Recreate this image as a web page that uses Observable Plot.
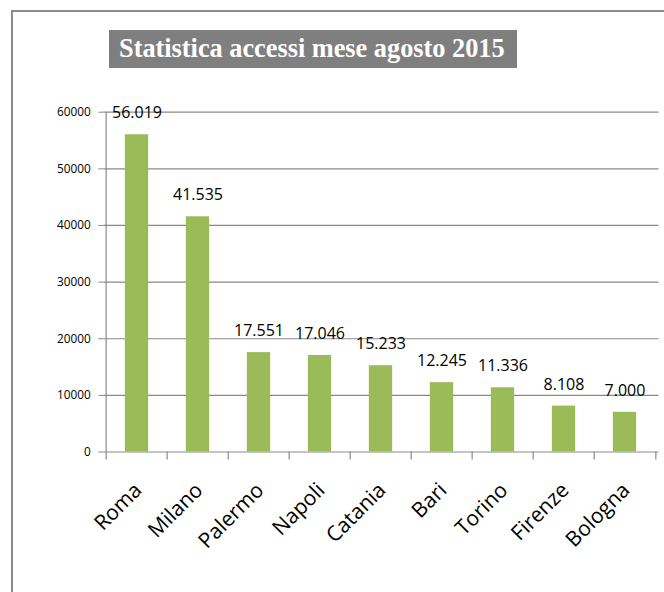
<!DOCTYPE html>
<html>
<head>
<meta charset="utf-8">
<script src="https://cdn.jsdelivr.net/npm/d3@7"></script>
<script src="https://cdn.jsdelivr.net/npm/@observablehq/plot@0.6"></script>
<style>
  html, body { margin: 0; padding: 0; background: #fff; }
  #wrap { position: relative; width: 664px; height: 592px; overflow: hidden; background: #fff; }
  #frame { position: absolute; left: 11px; top: 10px; width: 1000px; height: 1000px;
           border-top: 2px solid #8c8c8c; border-left: 2px solid #8c8c8c; }
  #chart { position: absolute; left: 0; top: 0; }
  #title { position: absolute; left: 109px; top: 30px; width: 408px; height: 38px;
           background: #7f7f7f; color: #fff; font-family: "Liberation Serif", serif;
           font-weight: bold; font-size: 26.3px; line-height: 38px; box-sizing: border-box;
           padding-left: 10px; white-space: nowrap; }
</style>
</head>
<body>
<div id="wrap">
  <div id="frame"></div>
  <div id="chart"></div>
  <div id="title">Statistica accessi mese agosto 2015</div>
</div>
<script>
const cities = ["Roma", "Milano", "Palermo", "Napoli", "Catania", "Bari", "Torino", "Firenze", "Bologna"];
const accessi = [56019, 41535, 17551, 17046, 15233, 12245, 11336, 8108, 7000];
const yTicks = [0, 10000, 20000, 30000, 40000, 50000, 60000];

const data = cities.map((c, i) => ({city: c, value: accessi[i]}));
const it = d3.formatLocale({decimal: ",", thousands: ".", grouping: [3], currency: ["", "€"]});
const fmt = it.format(",d");

const W = 664, H = 592;
const mL = 103.3, mR = 5.5, mT = 111.7, mB = 140.5;
const step = (W - mL - mR) / cities.length;
const barW = 24;
const inset = (step - barW) / 2;
const tickLen = 8 / (H - mT - mB) * 60000;
const grid = "#898989";

const chart = Plot.plot({
  width: W,
  height: H,
  marginLeft: mL,
  marginRight: mR,
  marginTop: mT,
  marginBottom: mB,
  style: {fontFamily: "'Open Sans', sans-serif", background: "transparent", overflow: "visible"},
  x: {domain: cities, padding: 0, axis: null},
  y: {domain: [0, 60000], axis: null},
  marks: [
    Plot.ruleY(yTicks, {stroke: grid, strokeWidth: 1.2}),
    Plot.ruleX([cities[0]], {x: d => d, dx: -step / 2, y1: 0, y2: 60000, stroke: grid, strokeWidth: 1.2}),
    Plot.ruleX(cities, {x: d => d, dx: -step / 2, y1: 0, y2: -tickLen, stroke: grid, strokeWidth: 1.2}),
    Plot.ruleX([cities[cities.length - 1]], {x: d => d, dx: step / 2, y1: 0, y2: -tickLen, stroke: grid, strokeWidth: 1.2}),
    Plot.axisY({ticks: yTicks, tickSize: 5, tickPadding: 8, fontSize: 11.8, stroke: grid, fill: "#000",
                label: null, tickFormat: d => String(d)}),
    Plot.barY(data, {x: "city", y: "value", fill: "#9bbb59", insetLeft: inset, insetRight: inset}),
    Plot.text(data, {x: "city", y: "value", text: d => fmt(d.value), lineAnchor: "bottom",
                     dy: -16.5, fontSize: 16, fill: "#000"}),
    Plot.text(cities, {x: d => d, y: () => 0, text: d => d, rotate: -45, textAnchor: "end",
                       lineAnchor: "bottom", dx: 6, dy: 39.5, fontSize: 21, fill: "#000"})
  ]
});
document.getElementById("chart").appendChild(chart);
</script>
</body>
</html>
